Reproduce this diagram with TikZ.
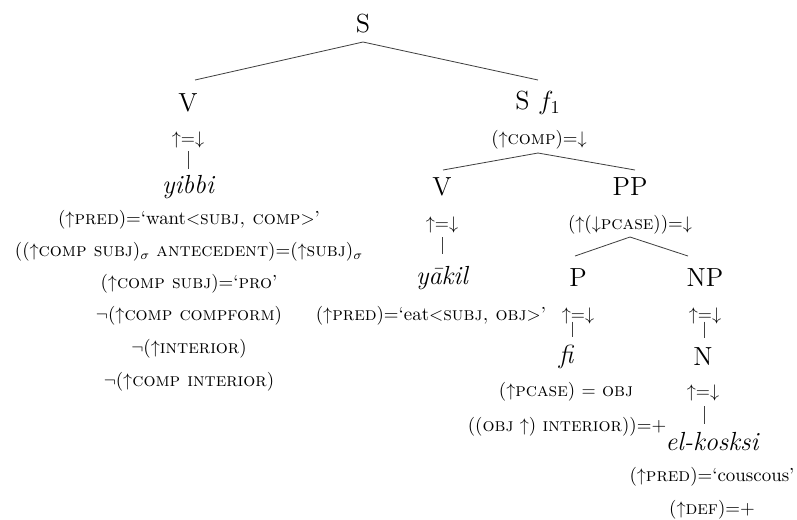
\documentclass[tikz,border=0pt]{standalone}
\usetikzlibrary{calc}
\begin{document}
\begin{tikzpicture}[x=0.55pt,y=-0.55pt,
  cat/.style={inner sep=0pt,font=\Large},
  word/.style={inner sep=0pt,font=\Large\itshape},
  ann/.style={inner sep=0pt,font=\fontsize{10.4}{12}\selectfont},
  edge/.style={line width=0.45pt,draw=black!75}]
\useasboundingbox (0,0) rectangle (797,519);
% root
\node[cat] (S) at (363,24) {S};
\coordinate (S-b) at (363,42);
% left V
\node[cat] (V1) at (188,103) {V};
\coordinate (V1-t) at (195,80);
\node[ann] (V1a) at (188,140) {$\uparrow=\downarrow$};
\node[word] (yibbi) at (188,187) {yibbi};
\node[ann] (y1) at (189,220) {($\uparrow$\textsc{pred})=`want$<$\textsc{subj, comp}$>$'};
\node[ann] (y2) at (189,252) {(($\uparrow$\textsc{comp subj})$_\sigma$ \textsc{antecedent})=($\uparrow$\textsc{subj})$_\sigma$};
\node[ann] (y3) at (189,284) {($\uparrow$\textsc{comp subj})=`\textsc{pro}'};
\node[ann] (y4) at (189,316) {$\neg$($\uparrow$\textsc{comp compform})};
\node[ann] (y5) at (189,349) {$\neg$($\uparrow$\textsc{interior})};
\node[ann] (y6) at (189,382) {$\neg$($\uparrow$\textsc{comp interior})};
% S f1
\node[cat] (S1) at (538,103) {S $f_1$};
\coordinate (S1-t) at (538,80);
\node[ann] (S1a) at (539,140) {($\uparrow$\textsc{comp})=$\downarrow$};
\coordinate (S1-b) at (538,153);
% right V
\node[cat] (V2) at (442,187) {V};
\coordinate (V2-t) at (443,170);
\node[ann] (V2a) at (442,225) {$\uparrow=\downarrow$};
\node[word] (yakil) at (442,278) {y\={a}kil};
\node[ann] (v1) at (431,316) {($\uparrow$\textsc{pred})=`eat$<$\textsc{subj, obj}$>$'};
% PP
\node[cat] (PP) at (630,187) {PP};
\coordinate (PP-t) at (635,170);
\node[ann] (PPa) at (630,225) {($\uparrow$($\downarrow$\textsc{pcase}))=$\downarrow$};
\coordinate (PP-b) at (630,237);
% P
\node[cat] (P) at (578,278) {P};
\coordinate (P-t) at (575,256);
\node[ann] (Pa) at (578,316) {$\uparrow=\downarrow$};
\node[word] (fi) at (566,357) {fi};
\node[ann] (p1) at (566,392) {($\uparrow$\textsc{pcase}) $=$ \textsc{obj}};
\node[ann] (p2) at (567,427) {((\textsc{obj} $\uparrow$) \textsc{interior}))=+};
% NP
\node[cat] (NP) at (705,278) {NP};
\coordinate (NP-t) at (688,256);
\node[ann] (NPa) at (705,316) {$\uparrow=\downarrow$};
\node[cat] (N) at (703,357) {N};
\node[ann] (Na) at (703,393) {$\uparrow=\downarrow$};
\node[word] (kosksi) at (712,442) {el-kosksi};
\node[ann] (n1) at (712,477) {($\uparrow$\textsc{pred})=`couscous'};
\node[ann] (n2) at (712,510) {($\uparrow$\textsc{def})=+};
% edges
\draw[edge] (V1-t) -- (S-b) -- (S1-t);
\draw[edge] (V2-t) -- (S1-b) -- (PP-t);
\draw[edge] (P-t) -- (PP-b) -- (NP-t);
\draw[edge] ($(V1a.south)+(0,-1.6pt)$) -- ($(V1a.south |- yibbi.north)+(0,3pt)$);
\draw[edge] ($(V2a.south)+(0,-2.2pt)$) -- ($(V2a.south |- yakil.north)+(0,6.3pt)$);
\draw[edge] ($(Pa.south)+(-3.3pt,1.5pt)$) -- ($(Pa.south |- fi.north)+(-3.3pt,4.1pt)$);
\draw[edge] ($(NPa.south)+(-0.55pt,1.5pt)$) -- ($(NPa.south |- N.north)+(-0.55pt,5.5pt)$);
\draw[edge] ($(Na.south)+(0.55pt,-2.75pt)$) -- ($(Na.south |- kosksi.north)+(0.55pt,4.4pt)$);
\end{tikzpicture}
\end{document}
